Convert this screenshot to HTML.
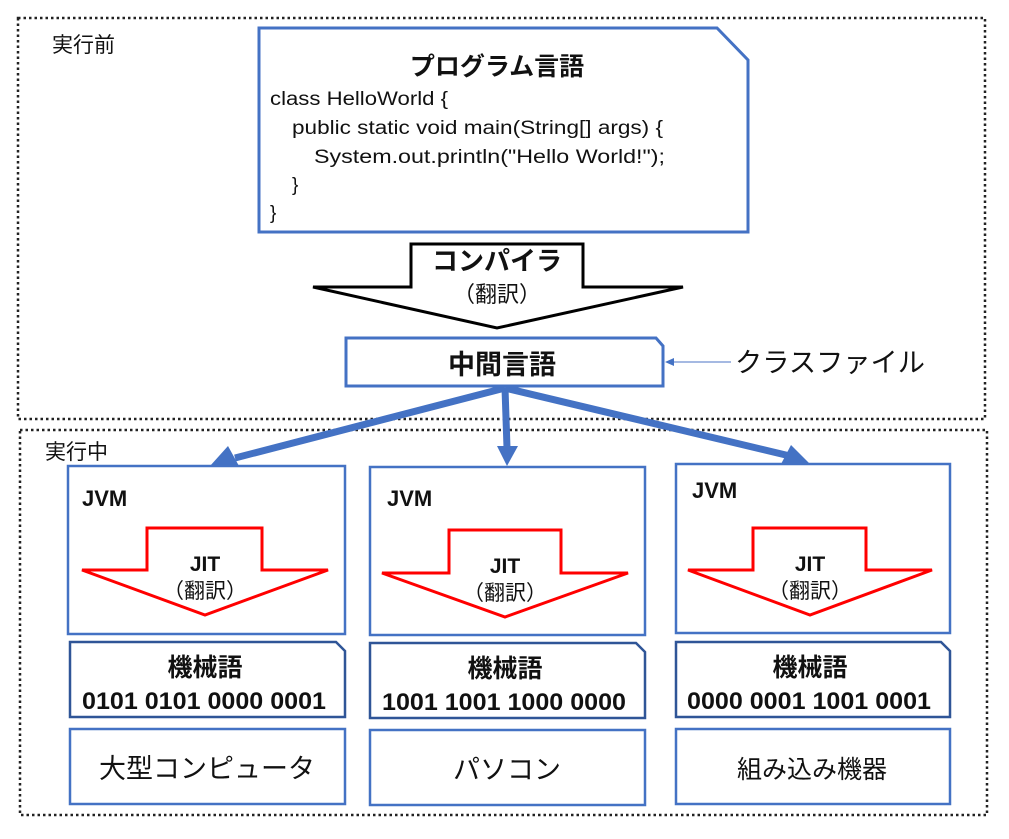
<!DOCTYPE html>
<html><head><meta charset="utf-8"><style>
html,body{margin:0;padding:0;background:#fff}
svg{display:block}
text{font-family:"Liberation Sans","Noto Sans CJK JP",sans-serif;fill:#111}
.b{font-weight:bold}
</style></head><body>
<svg width="1009" height="839" viewBox="0 0 1009 839">
<rect x="18" y="18" width="967" height="401" fill="none" stroke="#222" stroke-width="2.5" stroke-dasharray="2.5 3"/>
<rect x="20" y="430" width="967" height="385" fill="none" stroke="#222" stroke-width="2.5" stroke-dasharray="2.5 3"/>
<text x="52" y="52" font-size="21">実行前</text>
<text x="45" y="459" font-size="21">実行中</text>

<path d="M259,28 L717,28 L748,60 L748,232 L259,232 Z" fill="#fff" stroke="#4472c4" stroke-width="3"/>
<text x="497" y="75" font-size="25" class="b" text-anchor="middle">プログラム言語</text>
<text x="270" y="105" font-size="19" textLength="178" lengthAdjust="spacingAndGlyphs">class HelloWorld {</text>
<text x="292" y="134" font-size="19" textLength="371" lengthAdjust="spacingAndGlyphs">public static void main(String[] args) {</text>
<text x="314" y="163" font-size="19" textLength="351" lengthAdjust="spacingAndGlyphs">System.out.println("Hello  World!");</text>
<text x="292" y="191" font-size="19">}</text>
<text x="270" y="219" font-size="19">}</text>

<path d="M411,244 L583,244 L583,287 L683,287 L497,328 L313,287 L411,287 Z" fill="#fff" stroke="#000" stroke-width="3"/>
<text x="497" y="270" font-size="26" class="b" text-anchor="middle" fill="#222">コンパイラ</text>
<text x="497" y="302" font-size="22" text-anchor="middle" fill="#222">（翻訳）</text>

<path d="M346,338 L656,338 L663,346 L663,386 L346,386 Z" fill="#fff" stroke="#4472c4" stroke-width="3"/>
<text x="502" y="374" font-size="27" class="b" text-anchor="middle">中間言語</text>
<line x1="731" y1="362" x2="672" y2="362" stroke="#6f8fd0" stroke-width="1.2"/>
<path d="M665,362 L674,358 L674,366 Z" fill="#4472c4"/>
<text x="735" y="372" font-size="27" textLength="190" lengthAdjust="spacingAndGlyphs">クラスファイル</text>

<g stroke="#4472c4" stroke-width="7" fill="none">
<line x1="505" y1="388" x2="235" y2="458"/>
<line x1="505" y1="388" x2="507" y2="448"/>
<line x1="505" y1="388" x2="790" y2="456"/>
</g>
<path d="M210,466 L228,446 L239,466 Z" fill="#4472c4"/>
<path d="M497,446 L518,446 L507,466 Z" fill="#4472c4"/>
<path d="M810,464 L780,466 L791,445 Z" fill="#4472c4"/>

<rect x="68" y="466" width="277" height="168" fill="#fff" stroke="#4472c4" stroke-width="2.5"/>
<text x="82" y="506" font-size="22" class="b">JVM</text>
<path d="M147,528 L262,528 L262,570 L328,570 L205,615 L82,570 L147,570 Z" fill="#fff" stroke="#f00" stroke-width="3"/>
<text x="205" y="571" font-size="21" class="b" text-anchor="middle">JIT</text>
<text x="205" y="598" font-size="21" text-anchor="middle">（翻訳）</text>
<path d="M70,642 L336,642 L345,651 L345,717 L70,717 Z" fill="#fff" stroke="#2f5597" stroke-width="2.5"/>
<text x="205" y="676" font-size="25" class="b" text-anchor="middle">機械語</text>
<text x="204" y="709" font-size="24" class="b" text-anchor="middle" textLength="244" lengthAdjust="spacingAndGlyphs">0101 0101 0000 0001</text>
<rect x="70" y="729" width="275" height="75" fill="#fff" stroke="#4472c4" stroke-width="2.5"/>
<text x="207" y="778" font-size="27" text-anchor="middle">大型コンピュータ</text>

<rect x="370" y="467" width="275" height="168" fill="#fff" stroke="#4472c4" stroke-width="2.5"/>
<text x="387" y="506" font-size="22" class="b">JVM</text>
<path d="M449,530 L561,530 L561,573 L628,573 L505,617 L382,573 L449,573 Z" fill="#fff" stroke="#f00" stroke-width="3"/>
<text x="505" y="573" font-size="21" class="b" text-anchor="middle">JIT</text>
<text x="505" y="600" font-size="21" text-anchor="middle">（翻訳）</text>
<path d="M370,643 L636,643 L645,652 L645,718 L370,718 Z" fill="#fff" stroke="#2f5597" stroke-width="2.5"/>
<text x="505" y="677" font-size="25" class="b" text-anchor="middle">機械語</text>
<text x="504" y="710" font-size="24" class="b" text-anchor="middle" textLength="244" lengthAdjust="spacingAndGlyphs">1001 1001 1000 0000</text>
<rect x="370" y="730" width="275" height="75" fill="#fff" stroke="#4472c4" stroke-width="2.5"/>
<text x="507" y="779" font-size="27" text-anchor="middle">パソコン</text>

<rect x="676" y="464" width="274" height="169" fill="#fff" stroke="#4472c4" stroke-width="2.5"/>
<text x="692" y="498" font-size="22" class="b">JVM</text>
<path d="M753,528 L866,528 L866,570 L932,570 L810,615 L688,570 L753,570 Z" fill="#fff" stroke="#f00" stroke-width="3"/>
<text x="810" y="571" font-size="21" class="b" text-anchor="middle">JIT</text>
<text x="810" y="598" font-size="21" text-anchor="middle">（翻訳）</text>
<path d="M676,642 L941,642 L950,651 L950,717 L676,717 Z" fill="#fff" stroke="#2f5597" stroke-width="2.5"/>
<text x="810" y="676" font-size="25" class="b" text-anchor="middle">機械語</text>
<text x="809" y="709" font-size="24" class="b" text-anchor="middle" textLength="244" lengthAdjust="spacingAndGlyphs">0000 0001 1001 0001</text>
<rect x="676" y="729" width="274" height="75" fill="#fff" stroke="#4472c4" stroke-width="2.5"/>
<text x="812" y="778" font-size="25" text-anchor="middle">組み込み機器</text>
</svg>
</body></html>
